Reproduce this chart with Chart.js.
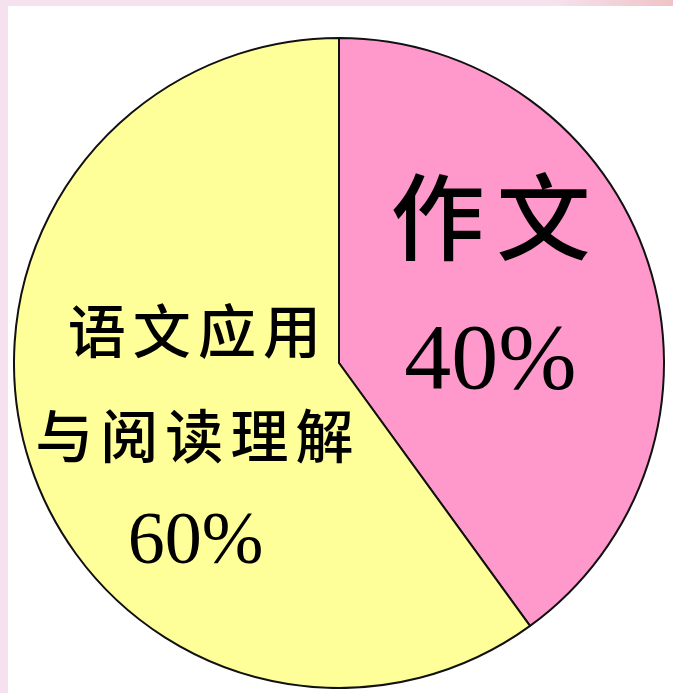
<!DOCTYPE html>
<html>
<head>
<meta charset="utf-8">
<script src="https://cdn.jsdelivr.net/npm/chart.js@4/dist/chart.umd.min.js"></script>
<style>
  html, body { margin: 0; padding: 0; }
  body { width: 673px; height: 693px; background: #f6e2ee; position: relative; overflow: hidden; }
  #topstrip { position: absolute; left: 0; top: 0; width: 673px; height: 6px;
    background: linear-gradient(to right, #f6e2ee 0%, #f6e2ee 82%, #efc3c6 100%); }
  #panel { position: absolute; left: 8px; top: 6px; right: 0; bottom: 0; background: #ffffff; }
  #wrap { position: absolute; left: 13px; top: 37px; width: 652px; height: 652px; }
</style>
</head>
<body>
<div id="topstrip"></div>
<div id="panel"></div>
<div id="wrap"><canvas id="c" width="652" height="652"></canvas></div>
<script>
// Data
const categories = ['作文', '语文应用与阅读理解'];
const labelLines = [['作文'], ['语文应用', '与阅读理解']];
const values = [40, 60];
const colors = ['#ff99cc', '#ffff99'];

// Label placement (relative to pie centre, in units of radius) and styles
const labelStyle = [
  { name: { dx: 0.466, dy: -0.448, size: 94, spacing: 12, lineGap: 0 },
    pct:  { dx: 0.466, dy: 0.0, size: 94 } },
  { name: { dx: -0.445, dy: -0.10, size: 58, spacing: 7, lineGap: 0.324 },
    pct:  { dx: -0.441, dy: 0.556, size: 74 } }
];

const labelPlugin = {
  id: 'sliceLabels',
  afterDatasetsDraw(chart) {
    const ctx = chart.ctx;
    const meta = chart.getDatasetMeta(0);
    const arc0 = meta.data[0];
    const cx = arc0.x, cy = arc0.y, r = arc0.outerRadius;
    const total = values.reduce((a, b) => a + b, 0);
    ctx.save();
    ctx.fillStyle = '#000000';
    ctx.textAlign = 'center';
    ctx.textBaseline = 'middle';
    labelLines.forEach((lines, i) => {
      const st = labelStyle[i];
      ctx.font = '500 ' + st.name.size + 'px "Noto Sans CJK SC"';
      if ('letterSpacing' in ctx) ctx.letterSpacing = st.name.spacing + 'px';
      lines.forEach((line, j) => {
        const x = cx + st.name.dx * r + st.name.spacing / 2;
        const y = cy + (st.name.dy + j * st.name.lineGap) * r;
        ctx.fillText(line, x, y);
      });
      if ('letterSpacing' in ctx) ctx.letterSpacing = '0px';
      ctx.font = st.pct.size + 'px "Liberation Serif"';
      const pct = Math.round(values[i] / total * 100) + '%';
      ctx.fillText(pct, cx + st.pct.dx * r, cy + st.pct.dy * r);
    });
    ctx.restore();
  }
};

new Chart(document.getElementById('c'), {
  type: 'pie',
  data: {
    labels: categories,
    datasets: [{
      data: values,
      backgroundColor: colors,
      borderColor: '#111111',
      borderWidth: 2
    }]
  },
  options: {
    responsive: false,
    animation: false,
    layout: { padding: 0 },
    plugins: {
      legend: { display: false },
      tooltip: { enabled: false }
    }
  },
  plugins: [labelPlugin]
});
</script>
</body>
</html>
